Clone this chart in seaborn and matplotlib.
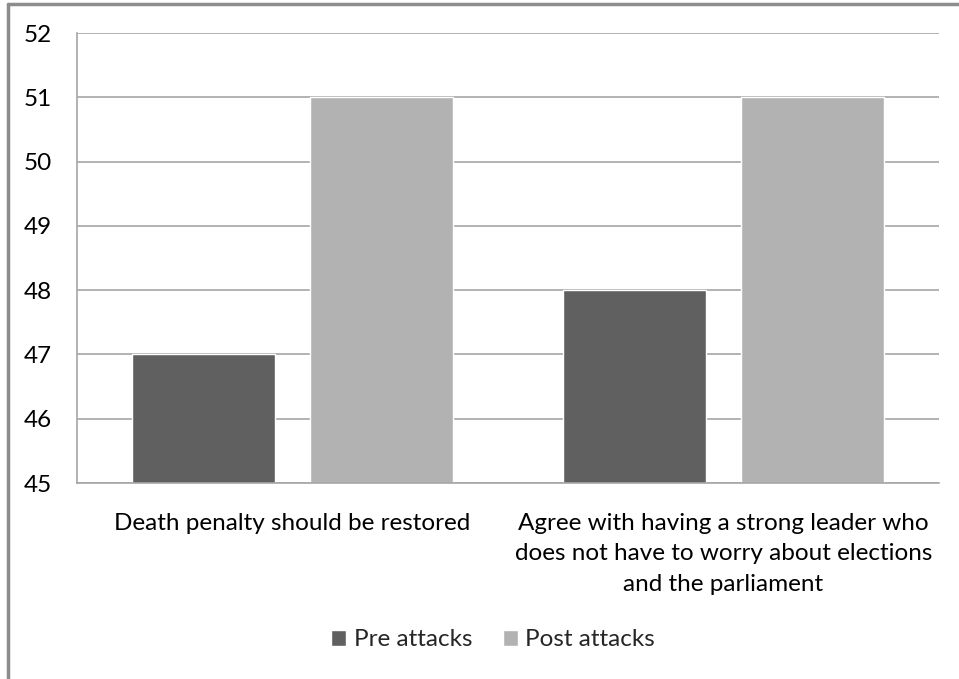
import pandas as pd
import matplotlib.pyplot as plt
import seaborn as sns
from matplotlib.lines import Line2D

# Survey data
categories = ["Death penalty should be restored",
              "Agree with having a strong leader who\ndoes not have to worry about elections\nand the parliament"]
pre_attacks = [47, 48]
post_attacks = [51, 51]
series_names = ["Pre attacks", "Post attacks"]

df = pd.DataFrame({
    "category": categories * 2,
    "value": pre_attacks + post_attacks,
    "period": [series_names[0]] * 2 + [series_names[1]] * 2,
})

sns.set_theme(style="white")
plt.rcParams['font.family'] = ['Lato', 'DejaVu Sans']
FS = 17.5

fig = plt.figure(figsize=(9.59, 6.79), dpi=100)
ax = fig.add_axes([77 / 959, 1 - 483 / 679, (939 - 77) / 959, (483 - 33) / 679])

sns.barplot(data=df, x="category", y="value", hue="period",
            palette=["#606060", "#b2b2b2"], width=0.83, gap=0.2,
            saturation=1, ax=ax, legend=True)

ax.set_ylim(45, 52)
ax.set_yticks(range(45, 53))
ax.set_xlim(-0.5, 1.5)
ax.set_xlabel("")
ax.set_ylabel("")
ax.yaxis.grid(True, color="#a6a6a6", linewidth=1.2)
ax.set_axisbelow(True)
for side in ["top", "right"]:
    ax.spines[side].set_visible(False)
for side in ["left", "bottom"]:
    ax.spines[side].set_color("#a6a6a6")
    ax.spines[side].set_linewidth(1.2)

ax.tick_params(axis="y", labelsize=FS, colors="#000000", pad=18, length=0)
ax.tick_params(axis="x", labelsize=FS, colors="#000000", pad=21.5, length=0)
for lbl in ax.get_xticklabels():
    lbl.set_linespacing(1.55)

# legend at bottom centre
handles, labels = ax.get_legend_handles_labels()
ax.legend_.remove()
fig.legend(handles, labels, loc="center", bbox_to_anchor=(493 / 959, 1 - 640 / 679),
           ncol=2, frameon=False, fontsize=FS, handlelength=0.62, handleheight=0.62,
           handletextpad=0.3, columnspacing=1.25)

# outer chart frame (clipped on right/bottom like the screenshot)
fig.add_artist(Line2D([8 / 959, 8 / 959], [0, 1 - 4 / 679], transform=fig.transFigure,
                      color="#8c8c8c", linewidth=2.5))
fig.add_artist(Line2D([8 / 959, 1], [1 - 4 / 679, 1 - 4 / 679], transform=fig.transFigure,
                      color="#8c8c8c", linewidth=2.5))

fig.savefig("out.png", dpi=100)
